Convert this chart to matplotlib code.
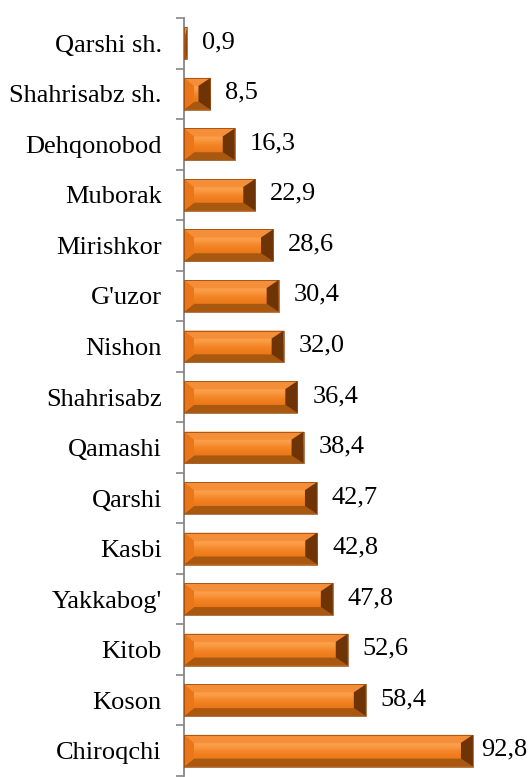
import matplotlib
matplotlib.use("Agg")
import matplotlib.pyplot as plt
import numpy as np
from matplotlib.patches import Polygon

districts = ["Qarshi sh.", "Shahrisabz sh.", "Dehqonobod", "Muborak", "Mirishkor",
             "G'uzor", "Nishon", "Shahrisabz", "Qamashi", "Qarshi", "Kasbi",
             "Yakkabog'", "Kitob", "Koson", "Chiroqchi"]
values = [0.9, 8.5, 16.3, 22.9, 28.6, 30.4, 32.0, 36.4, 38.4, 42.7, 42.8,
          47.8, 52.6, 58.4, 92.8]

plt.rcParams['font.family'] = ['Liberation Serif', 'DejaVu Serif']

W, H, DPI = 529, 777, 100
AX_L, AX_T = 184, 18
fig = plt.figure(figsize=(W / DPI, H / DPI), dpi=DPI)
ax = fig.add_axes([AX_L / W, 1 / H, (W - AX_L) / W, (H - 1 - AX_T) / H])

y = np.arange(len(districts))
ax.set_xlim(0, 110.8)
ax.set_ylim(len(districts) - 0.5, -0.5)

bar_h = 0.63
bars = ax.barh(y, values, height=bar_h, color='#F08020', edgecolor='none', zorder=2)

# size of one pixel in data units, for the bevel
px_x = 110.8 / (W - AX_L)
px_y = len(districts) / (H - 1 - AX_T)
bev_x, bev_y, bev_r = 10, 8, 12

grad = np.linspace(0, 1, 64).reshape(-1, 1)
face_cmap = matplotlib.colors.LinearSegmentedColormap.from_list(
    'face', [(0, '#F58628'), (0.3, '#FBA04C'), (0.55, '#F38222'), (1, '#DE6C10')])

for b in bars:
    x0, y0 = b.get_x(), b.get_y()
    w, h = b.get_width(), b.get_height()
    x1, y1 = x0 + w, y0 + h
    bx = min(bev_x * px_x, w / 2)
    br = min(bev_r * px_x, w / 2)
    by = min(bev_y * px_y, h / 2)
    im = ax.imshow(grad, cmap=face_cmap, aspect='auto', extent=(x0, x1, y1, y0),
                   zorder=2, interpolation='bilinear')
    im.set_clip_path(b)
    # y axis is inverted: y0 is the top edge of the bar
    ax.add_patch(Polygon([(x0, y0), (x1, y0), (x1 - br, y0 + by), (x0 + bx, y0 + by)],
                         facecolor='#F48E38', edgecolor='none', zorder=3))
    ax.add_patch(Polygon([(x0, y1), (x1, y1), (x1 - br, y1 - by), (x0 + bx, y1 - by)],
                         facecolor='#A9580F', edgecolor='none', zorder=3))
    ax.add_patch(Polygon([(x0, y0), (x0 + bx, y0 + by), (x0 + bx, y1 - by), (x0, y1)],
                         facecolor='#EA761A', edgecolor='none', zorder=3))
    ax.add_patch(Polygon([(x1, y0), (x1 - br, y0 + by), (x1 - br, y1 - by), (x1, y1)],
                         facecolor='#6E3406', edgecolor='none', zorder=3))
    ax.add_patch(Polygon([(x0, y0), (x1, y0), (x1, y1), (x0, y1)],
                         facecolor='none', edgecolor='#8A420A', linewidth=0.5, zorder=4))

labels = []
for yi, v in zip(y, values):
    labels.append(ax.annotate(f"{v:.1f}".replace('.', ','), (v, yi), xytext=(15, 1),
                              textcoords='offset pixels', va='center', ha='left',
                              fontsize=19, color='black'))

ax.set_yticks(y)
ax.set_yticklabels(districts, fontsize=19)
ax.set_yticks(np.arange(len(districts) + 1) - 0.5, minor=True)
ax.tick_params(axis='y', which='major', length=0, pad=16)
ax.tick_params(axis='y', which='minor', length=6, color='#868686', width=1.2)
ax.set_xticks([])
for s in ['top', 'right', 'bottom']:
    ax.spines[s].set_visible(False)
ax.spines['left'].set_color('#868686')
ax.spines['left'].set_linewidth(1.3)
ax.patch.set_alpha(0)

# keep value labels inside the picture, like the original chart does
fig.canvas.draw()
renderer = fig.canvas.get_renderer()
for t in labels:
    bb = t.get_window_extent(renderer)
    if bb.x1 > W - 2:
        dx = bb.x1 - (W - 2)
        t.set_position((15 - dx, 1))

fig.savefig('out.png', dpi=DPI)
